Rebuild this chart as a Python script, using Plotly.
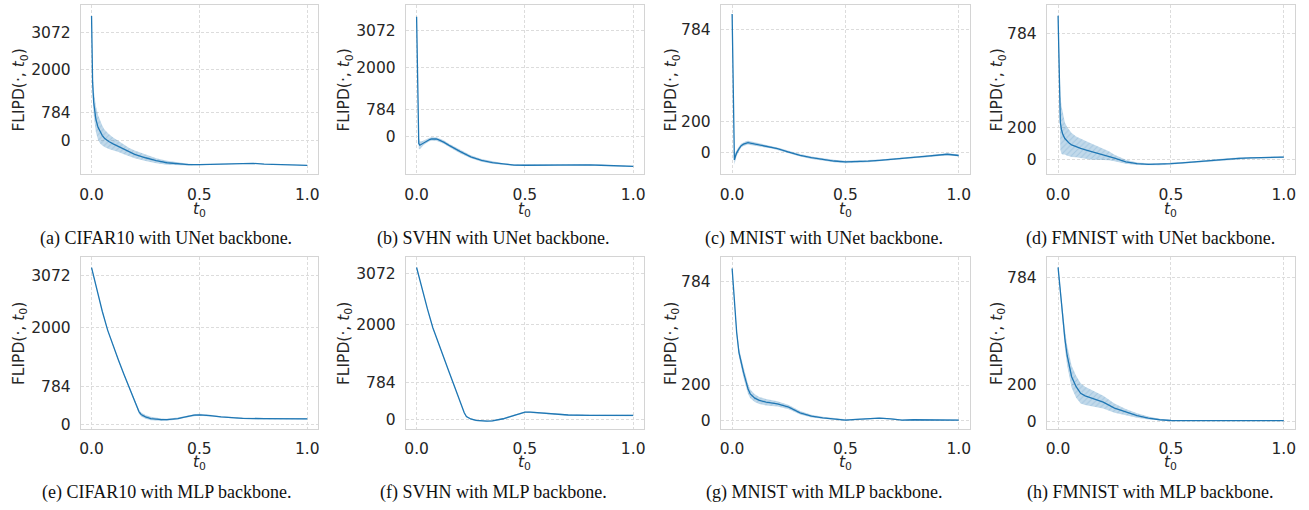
import plotly.graph_objects as go

W, H = 1309, 510

# ---------------- data ----------------
# (a) CIFAR10 UNet
t_a = [0, 0.005, 0.01, 0.015, 0.02, 0.03, 0.04, 0.05, 0.06, 0.08, 0.1, 0.125, 0.15, 0.175, 0.2,
       0.25, 0.3, 0.35, 0.4, 0.45, 0.5, 0.55, 0.6, 0.65, 0.7, 0.75, 0.8, 0.85, 0.9, 0.95, 1.0]
m_a = [3530, 1640, 1077, 796, 609, 375, 234, 140, 66, -28, -94, -169, -253, -328, -393,
       -487, -571, -628, -665, -684, -684, -674, -665, -656, -646, -646, -665, -674, -684, -684, -702]
s_a = [80, 280, 350, 370, 370, 350, 320, 280, 250, 210, 180, 155, 135, 120, 110,
       90, 70, 55, 40, 25, 15, 10, 10, 10, 10, 10, 10, 10, 10, 10, 10]

# (b) SVHN UNet
t_b = [0, 0.005, 0.01, 0.015, 0.02, 0.03, 0.04, 0.05, 0.06, 0.07, 0.08, 0.09, 0.1, 0.125, 0.15,
       0.175, 0.2, 0.25, 0.3, 0.35, 0.4, 0.45, 0.5, 0.55, 0.6, 0.65, 0.7, 0.75, 0.8, 0.85, 0.9, 0.95, 1.0]
m_b = [3470, 1200, -200, -250, -230, -190, -150, -110, -85, -70, -65, -70, -90, -160, -255,
       -345, -430, -585, -690, -755, -800, -825, -830, -825, -822, -815, -810, -815, -820, -830, -840, -850, -860]
s_b = [80, 150, 150, 120, 90, 70, 60, 55, 50, 50, 50, 50, 50, 50, 50,
       50, 50, 45, 40, 35, 30, 25, 20, 15, 15, 15, 15, 15, 15, 15, 15, 15, 15]

# (c) MNIST UNet
t_c = [0, 0.005, 0.01, 0.015, 0.02, 0.03, 0.04, 0.05, 0.06, 0.07, 0.08, 0.1, 0.125, 0.15, 0.175, 0.2,
       0.25, 0.3, 0.35, 0.4, 0.45, 0.5, 0.55, 0.6, 0.65, 0.7, 0.75, 0.8, 0.85, 0.9, 0.95, 1.0]
m_c = [880, 350, -45, -20, 0, 25, 45, 55, 62, 65, 62, 56, 50, 43, 35, 26,
       5, -16, -31, -43, -52, -58, -57, -53, -48, -43, -36, -29, -23, -17, -9, -17]
s_c = [20, 30, 30, 25, 20, 15, 12, 12, 12, 12, 12, 10, 10, 10, 8, 8,
       8, 8, 8, 8, 8, 8, 7, 7, 6, 6, 6, 6, 6, 6, 6, 6]

# (d) FMNIST UNet
t_d = [0, 0.005, 0.01, 0.015, 0.02, 0.03, 0.04, 0.05, 0.06, 0.08, 0.1, 0.125, 0.15, 0.175, 0.2, 0.225,
       0.25, 0.3, 0.35, 0.4, 0.45, 0.5, 0.55, 0.6, 0.65, 0.7, 0.75, 0.8, 0.85, 0.9, 0.95, 1.0]
m_d = [895, 450, 230, 185, 160, 130, 112, 100, 90, 78, 68, 58, 48, 40, 32, 22,
       8, -15, -27, -31, -31, -27, -22, -16, -10, -3, 2, 6, 9, 10, 12, 14]
s_d = [30, 150, 170, 150, 130, 100, 90, 80, 75, 65, 60, 55, 50, 42, 35, 28,
       20, 12, 8, 6, 5, 5, 5, 5, 5, 5, 5, 5, 5, 5, 5, 5]

# (e) CIFAR10 MLP
t_e = [0, 0.025, 0.05, 0.075, 0.1, 0.125, 0.15, 0.175, 0.2, 0.21, 0.22, 0.23, 0.25, 0.275, 0.3,
       0.325, 0.35, 0.375, 0.4, 0.425, 0.45, 0.475, 0.5, 0.525, 0.55, 0.6, 0.65, 0.7, 0.8, 0.9, 1.0]
m_e = [3240, 2770, 2330, 1940, 1620, 1320, 1030, 750, 470, 360, 255, 200, 150, 115, 100,
       92, 92, 100, 115, 140, 165, 185, 192, 188, 175, 150, 130, 120, 112, 110, 110]
s_e = [20, 20, 20, 20, 20, 20, 20, 20, 25, 30, 40, 40, 40, 35, 30,
       25, 20, 20, 20, 20, 20, 20, 20, 20, 20, 15, 15, 15, 15, 15, 15]

# (f) SVHN MLP
t_f = [0, 0.025, 0.05, 0.075, 0.1, 0.125, 0.15, 0.175, 0.2, 0.21, 0.22, 0.23, 0.25, 0.275, 0.3,
       0.325, 0.35, 0.375, 0.4, 0.425, 0.45, 0.475, 0.5, 0.525, 0.55, 0.6, 0.65, 0.7, 0.8, 0.9, 1.0]
m_f = [3190, 2745, 2320, 1925, 1600, 1300, 995, 690, 380, 260, 140, 60, 10, -20, -33,
       -35, -28, -12, 15, 50, 85, 125, 152, 152, 145, 126, 108, 94, 86, 84, 84]
s_f = [15] * len(t_f)

# (g) MNIST MLP
t_g = [0, 0.01, 0.02, 0.03, 0.04, 0.05, 0.06, 0.07, 0.08, 0.1, 0.12, 0.15, 0.2, 0.25, 0.3,
       0.35, 0.4, 0.45, 0.5, 0.55, 0.6, 0.65, 0.7, 0.75, 0.8, 0.9, 1.0]
m_g = [859, 667, 498, 385, 320, 273, 226, 179, 150, 126, 113, 103, 94, 75, 43,
       24, 15, 9, 2, 6, 11, 13, 9, 2, 4, 4, 2]
s_g = [10, 15, 20, 25, 28, 30, 30, 28, 25, 22, 20, 18, 15, 12, 10,
       8, 6, 5, 4, 3, 3, 3, 3, 3, 3, 3, 3]

# (h) FMNIST MLP
t_h = [0, 0.01, 0.02, 0.03, 0.04, 0.05, 0.06, 0.08, 0.1, 0.12, 0.15, 0.2, 0.25, 0.3, 0.35,
       0.4, 0.45, 0.5, 0.6, 0.7, 0.8, 0.9, 1.0]
m_h = [838, 703, 559, 451, 360, 297, 243, 189, 153, 139, 126, 105, 72, 50, 32,
       18, 9, 5, 4, 4, 4, 4, 4]
s_h = [10, 25, 40, 50, 55, 60, 60, 60, 55, 50, 45, 35, 25, 18, 12,
       8, 5, 3, 2, 2, 2, 2, 2]

ticks_big = [0, 784, 2000, 3072]
ticks_small = [0, 200, 784]
x_ticks = [0.0, 0.5, 1.0]
x_tick_labels = ["0.0", "0.5", "1.0"]

captions = ["(a) CIFAR10 with UNet backbone.", "(b) SVHN with UNet backbone.",
            "(c) MNIST with UNet backbone.", "(d) FMNIST with UNet backbone.",
            "(e) CIFAR10 with MLP backbone.", "(f) SVHN with MLP backbone.",
            "(g) MNIST with MLP backbone.", "(h) FMNIST with MLP backbone."]
y_title = "FLIPD(·, <i>t</i><sub>0</sub>)"
x_title = "<i>t</i><sub>0</sub>"

series = [(t_a, m_a, s_a), (t_b, m_b, s_b), (t_c, m_c, s_c), (t_d, m_d, s_d),
          (t_e, m_e, s_e), (t_f, m_f, s_f), (t_g, m_g, s_g), (t_h, m_h, s_h)]

# ---------------- layout (pixels) ----------------
frames_x = [(79, 317), (405, 644), (721, 971), (1048, 1297)] * 2
frames_y = [(5, 176)] * 4 + [(260, 433)] * 4
y_ranges = [(-955, 3840), (-1091, 3809), (-136, 937), (-93, 963),
            (-96, 3449), (-195, 3400), (-47, 921), (-40, 892)]
y_tickvals = [ticks_big, ticks_big, ticks_small, ticks_small] * 2
ytitle_x = [18, 344, 672, 999] * 2
cap_x = [165, 493, 825, 1152] * 2
cap_y = [241] * 4 + [497] * 4
xtitle_y = [212] * 4 + [468] * 4

C0 = "#1f77b4"
BAND = "rgba(31,119,180,0.28)"
GRID = "#dcdcdc"
EDGE = "#d4d4d4"
TXT = "#262626"
FONT = "DejaVu Sans"

fig = go.Figure()
layout = dict(width=W, height=H, margin=dict(l=0, r=0, t=0, b=0),
              paper_bgcolor="white", plot_bgcolor="white", showlegend=False,
              font=dict(family=FONT, size=15.5, color=TXT))
annotations = []

for i, (t, m, s) in enumerate(series):
    k = i + 1
    xa = "x" if k == 1 else f"x{k}"
    ya = "y" if k == 1 else f"y{k}"
    upper = [a + b for a, b in zip(m, s)]
    lower = [a - b for a, b in zip(m, s)]
    fig.add_trace(go.Scatter(x=t, y=upper, mode="lines", line=dict(width=0, color=C0),
                             hoverinfo="skip", xaxis=xa, yaxis=ya))
    fig.add_trace(go.Scatter(x=t, y=lower, mode="lines", line=dict(width=0, color=C0),
                             fill="tonexty", fillcolor=BAND,
                             fillpattern=dict(shape="/", bgcolor=BAND, fgcolor="rgba(31,119,180,0.35)",
                                              size=4, solidity=0.25),
                             hoverinfo="skip", xaxis=xa, yaxis=ya))
    fig.add_trace(go.Scatter(x=t, y=m, mode="lines", line=dict(width=1.3, color=C0),
                             xaxis=xa, yaxis=ya))

    x0, x1 = frames_x[i]
    y0, y1 = frames_y[i]
    axis_common = dict(showline=True, linecolor=EDGE, linewidth=1, mirror=True,
                       showgrid=True, gridcolor=GRID, gridwidth=0.8, griddash="3px,2px",
                       zeroline=False, ticks="", tickfont=dict(family=FONT, size=15.5, color=TXT))
    layout["xaxis" if k == 1 else f"xaxis{k}"] = dict(
        domain=[x0 / W, x1 / W], anchor=ya, range=[-0.05, 1.05],
        tickvals=x_ticks, ticktext=x_tick_labels, ticklabelstandoff=6, **axis_common)
    layout["yaxis" if k == 1 else f"yaxis{k}"] = dict(
        domain=[1 - y1 / H, 1 - y0 / H], anchor=xa, range=list(y_ranges[i]),
        tickvals=y_tickvals[i], ticklabelstandoff=6, **axis_common)

    yc = (y0 + y1) / 2
    annotations.append(dict(text=y_title, x=ytitle_x[i] / W, y=1 - yc / H, xref="paper", yref="paper",
                            xanchor="center", yanchor="middle", textangle=-90, showarrow=False,
                            font=dict(family=FONT, size=15.5, color=TXT)))
    annotations.append(dict(text=x_title, x=((x0 + x1) / 2) / W, y=1 - xtitle_y[i] / H,
                            xref="paper", yref="paper", xanchor="center", yanchor="middle",
                            showarrow=False, font=dict(family=FONT, size=15.5, color=TXT)))
    annotations.append(dict(text=captions[i], x=cap_x[i] / W, y=1 - cap_y[i] / H,
                            xref="paper", yref="paper", xanchor="center", yanchor="middle",
                            showarrow=False, font=dict(family="Liberation Serif", size=18, color="#111111")))

layout["annotations"] = annotations
fig.update_layout(**layout)
fig.write_html("out.html")
